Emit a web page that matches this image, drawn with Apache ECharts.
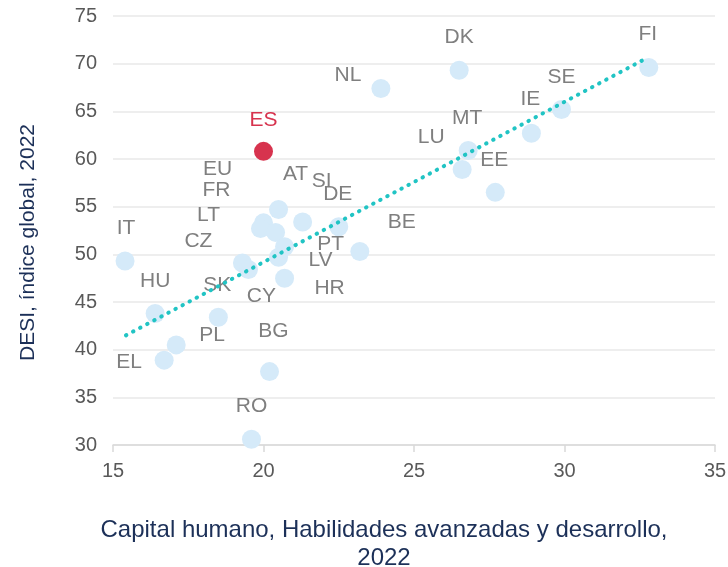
<!DOCTYPE html>
<html>
<head>
    <meta charset="utf-8">
    <title>DESI 2022</title>
    <script src="https://cdn.jsdelivr.net/npm/echarts@6/dist/echarts.min.js"></script>
    <style>
        html, body { margin: 0; padding: 0; background: #fff; }
    </style>
</head>
<body>
    <div id="main" style="width: 728px;height:567px;"></div>
    <script type="text/javascript">
        // países (códigos) y valores
        var countries = ['FI', 'DK', 'NL', 'SE', 'IE', 'MT', 'LU', 'EE', 'ES', 'AT', 'FR', 'LT', 'SI', 'EU', 'DE',
            'PT', 'LV', 'BE', 'CZ', 'CY', 'HR', 'IT', 'HU', 'SK', 'PL', 'EL', 'BG', 'RO'];
        // Capital humano, habilidades avanzadas y desarrollo
        var capitalHumano = [32.8, 26.5, 23.9, 29.9, 28.9, 26.8, 26.6, 27.7, 20.0, 20.5, 20.0, 19.9, 21.3, 20.4, 22.5,
            20.7, 20.5, 23.2, 19.3, 19.5, 20.7, 15.4, 16.4, 18.5, 17.1, 16.7, 20.2, 19.6];
        // DESI, índice global
        var desi = [69.6, 69.3, 67.4, 65.2, 62.7, 60.9, 58.9, 56.5, 60.8, 54.7, 53.3, 52.7, 53.4, 52.3, 52.9,
            50.8, 49.7, 50.3, 49.1, 48.4, 47.5, 49.3, 43.8, 43.4, 40.5, 38.9, 37.7, 30.6];
        // línea de tendencia (extremos)
        var trendX = [15.43, 32.62];
        var trendY = [41.5, 70.4];
        var xTicks = [15, 35, 5];
        var yTicks = [30, 75, 5];

        // desplazamiento de las etiquetas respecto al punto (px)
        var labelOffsets = {
            FI: [-1, -33], DK: [0, -33], NL: [-33, -13], SE: [0, -32], IE: [-1, -34], MT: [-1, -32],
            LU: [-31, -32], EE: [-1, -32], BE: [42, -29], DE: [-1, -32], SI: [19, -41], AT: [17, -35],
            ES: [0, -31], EU: [-58, -63], FR: [-47, -33], LT: [-52, -13], CZ: [-44, -22], IT: [1, -33],
            HU: [0, -32], SK: [-1, -32], PL: [36, -10], EL: [-35, 2], CY: [13, 27], BG: [4, -40],
            RO: [0, -33], PT: [46, -3], LV: [42, 3], HR: [45, 10]
        };

        var FONT = 'Liberation Sans, Arial, sans-serif';
        var pointData = countries.map(function (c, i) {
            var isES = c === 'ES';
            return {
                name: c,
                value: [capitalHumano[i], desi[i]],
                itemStyle: { color: isES ? '#d7334e' : '#d5eaf9', opacity: 1 },
                label: {
                    offset: labelOffsets[c],
                    color: isES ? '#d7334e' : '#7f7f7f'
                }
            };
        });

        var myChart = echarts.init(document.getElementById('main'));
        var option = {
            animation: false,
            grid: { left: 113, right: 13, top: 16, bottom: 122, outerBoundsMode: 'none' },
            xAxis: {
                type: 'value',
                min: xTicks[0], max: xTicks[1], interval: xTicks[2],
                name: 'Capital humano, Habilidades avanzadas y desarrollo,\n2022',
                nameLocation: 'middle',
                nameGap: 71,
                nameTextStyle: { color: '#1c3058', fontSize: 24, fontFamily: FONT, lineHeight: 28, padding: [0, 60, 0, 0] },
                axisLine: { show: true, lineStyle: { color: '#d9d9d9', width: 1.5 } },
                axisTick: { show: true, length: 7, lineStyle: { color: '#d9d9d9', width: 1.5 } },
                axisLabel: { color: '#595959', fontSize: 20, fontFamily: FONT, margin: 16 },
                splitLine: { show: false }
            },
            yAxis: {
                type: 'value',
                min: yTicks[0], max: yTicks[1], interval: yTicks[2],
                name: 'DESI, índice global, 2022',
                nameLocation: 'middle',
                nameGap: 74,
                nameTextStyle: { color: '#1c3058', fontSize: 21, fontFamily: FONT, padding: [0, 24, 0, 0] },
                axisLine: { show: false },
                axisTick: { show: false },
                axisLabel: { color: '#595959', fontSize: 20, fontFamily: FONT, margin: 16 },
                splitLine: { show: true, lineStyle: { color: '#e8e8e8', width: 1.5 } }
            },
            series: [
                {
                    type: 'scatter',
                    symbolSize: 19,
                    data: pointData,
                    label: {
                        show: true,
                        position: 'inside',
                        formatter: '{b}',
                        fontSize: 21,
                        fontFamily: FONT
                    },
                    z: 2
                },
                {
                    type: 'line',
                    data: [[trendX[0], trendY[0]], [trendX[1], trendY[1]]],
                    symbol: 'none',
                    lineStyle: { color: '#21c4c4', width: 4, type: [0.5, 7.5], cap: 'round' },
                    silent: true,
                    z: 3
                }
            ]
        };
        myChart.setOption(option);
    </script>
</body>
</html>
